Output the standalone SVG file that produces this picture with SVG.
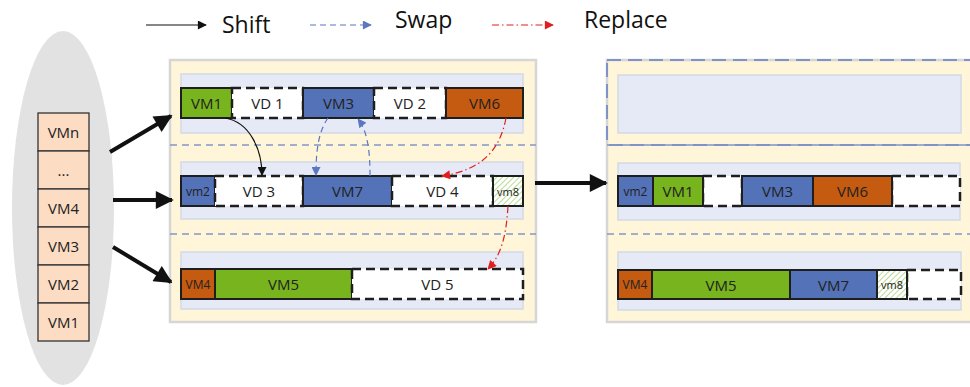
<svg xmlns="http://www.w3.org/2000/svg" width="970" height="387" viewBox="0 0 970 387">
<defs>
<style>
.t{font-family:"Open Sans","Liberation Sans",sans-serif;fill:#222;text-anchor:middle;dominant-baseline:central}
.lg{font-family:"Open Sans","Liberation Sans",sans-serif;fill:#111;font-size:23px}
.b{font-size:15px}
.s{font-size:12px}
.panel{fill:#FFF5D8;stroke:#D6D6D6;stroke-width:2.5}
.inner{fill:#E6EAF6;stroke:#D5D9E4;stroke-width:1.5}
.vm{stroke:#1E1E1E;stroke-width:2}
.vd{fill:#fff;stroke:#1E1E1E;stroke-width:2.5;stroke-dasharray:9 5}
.g{fill:#77B41E}.bl{fill:#5472B8}.o{fill:#C55A11}
.sep{stroke:#8597C8;stroke-width:1.3;stroke-dasharray:7 5;fill:none}
.stk{fill:#FDDCC4;stroke:#333;stroke-width:1.3}
.thick{stroke:#111;stroke-width:4;fill:none}
.shift{stroke:#111;stroke-width:1.2;fill:none}
.swap{stroke:#5B77C0;stroke-width:1.2;stroke-dasharray:6 4;fill:none}
.repl{stroke:#E02020;stroke-width:1.2;stroke-dasharray:7 3 1.5 3;fill:none}
</style>
<marker id="big" viewBox="0 0 10 10" refX="9" refY="5" markerWidth="22" markerHeight="18" markerUnits="userSpaceOnUse" orient="auto"><path d="M0,0 L10,5 L0,10 z" fill="#111"/></marker>
<marker id="ak" viewBox="0 0 10 10" refX="9" refY="5" markerWidth="10" markerHeight="9" markerUnits="userSpaceOnUse" orient="auto"><path d="M0,0 L10,5 L0,10 z" fill="#111"/></marker>
<marker id="ab" viewBox="0 0 10 10" refX="9" refY="5" markerWidth="10" markerHeight="9" markerUnits="userSpaceOnUse" orient="auto"><path d="M0,0 L10,5 L0,10 z" fill="#5B77C0"/></marker>
<marker id="ar" viewBox="0 0 10 10" refX="9" refY="5" markerWidth="10" markerHeight="9" markerUnits="userSpaceOnUse" orient="auto"><path d="M0,0 L10,5 L0,10 z" fill="#E02020"/></marker>
<pattern id="hatch" width="4" height="4" patternUnits="userSpaceOnUse" patternTransform="rotate(45)"><rect width="4" height="4" fill="#fff"/><line x1="0" y1="0" x2="0" y2="4" stroke="#A9D27A" stroke-width="1.6"/></pattern>
</defs>

<g id="legend">
<line x1="146" y1="25" x2="206" y2="25" class="shift" marker-end="url(#ak)"/>
<text x="222" y="33" class="lg">Shift</text>
<line x1="310" y1="25" x2="371" y2="25" class="swap" marker-end="url(#ab)"/>
<text x="395" y="28" class="lg">Swap</text>
<line x1="492" y1="25" x2="553" y2="25" class="repl" marker-end="url(#ar)"/>
<text x="584" y="28" class="lg">Replace</text>
</g>

<g id="queue">
<ellipse cx="63" cy="208" rx="51" ry="177" fill="#E2E2E2"/>
<rect x="38" y="113" width="51" height="38" class="stk"/><text x="63.5" y="132" class="t b">VMn</text>
<rect x="38" y="151" width="51" height="38" class="stk"/><text x="63.5" y="170" class="t b">...</text>
<rect x="38" y="189" width="51" height="38" class="stk"/><text x="63.5" y="208" class="t b">VM4</text>
<rect x="38" y="227" width="51" height="38" class="stk"/><text x="63.5" y="246" class="t b">VM3</text>
<rect x="38" y="265" width="51" height="38" class="stk"/><text x="63.5" y="284" class="t b">VM2</text>
<rect x="38" y="303" width="51" height="38" class="stk"/><text x="63.5" y="322" class="t b">VM1</text>
</g>

<g id="before">
<rect x="170" y="60" width="366" height="262" class="panel"/>
<line x1="170" y1="145" x2="536" y2="145" class="sep"/>
<line x1="170" y1="234" x2="536" y2="234" class="sep"/>
<g id="row1">
<rect x="181" y="74" width="342" height="59" class="inner"/>
<rect x="181" y="88" width="51" height="30" class="vm g"/><text x="206.5" y="103" class="t b">VM1</text>
<rect x="232" y="88" width="71" height="30" class="vd"/><text x="267.5" y="103" class="t b">VD 1</text>
<rect x="303" y="88" width="71" height="30" class="vm bl"/><text x="338.5" y="103" class="t b">VM3</text>
<rect x="374" y="88" width="72" height="30" class="vd"/><text x="410" y="103" class="t b">VD 2</text>
<rect x="446" y="88" width="77" height="30" class="vm o"/><text x="484.5" y="103" class="t b">VM6</text>
</g>
<g id="row2">
<rect x="181" y="162" width="342" height="57" class="inner"/>
<rect x="181" y="176" width="34" height="30" class="vm bl"/><text x="198" y="191" class="t s">vm2</text>
<rect x="215" y="176" width="88" height="30" class="vd"/><text x="259" y="191" class="t b">VD 3</text>
<rect x="303" y="176" width="89" height="30" class="vm bl"/><text x="347.5" y="191" class="t b">VM7</text>
<rect x="392" y="176" width="101" height="30" class="vd"/><text x="442.5" y="191" class="t b">VD 4</text>
<rect x="493" y="176" width="30" height="30" class="vm" fill="url(#hatch)"/><text x="508" y="191" class="t" font-size="11">vm8</text>
</g>
<g id="row3">
<rect x="181" y="252" width="342" height="57" class="inner"/>
<rect x="181" y="269" width="34" height="30" class="vm o"/><text x="198" y="284" class="t s">VM4</text>
<rect x="215" y="269" width="137" height="30" class="vm g"/><text x="283.5" y="284" class="t b">VM5</text>
<rect x="352" y="269" width="171" height="30" class="vd"/><text x="437.5" y="284" class="t b">VD 5</text>
</g>
</g>

<g id="after">
<rect x="607" y="60" width="375" height="262" class="panel"/>
<rect x="607" y="60" width="375" height="85" fill="none" stroke="#7F93C8" stroke-width="2" stroke-dasharray="14 7"/>
<line x1="607" y1="145" x2="975" y2="145" stroke="#7F93C8" stroke-width="1.5"/>
<line x1="607" y1="234" x2="975" y2="234" class="sep"/>
<rect x="618" y="75" width="343" height="58" class="inner"/>
<g id="row4">
<rect x="618" y="163" width="342" height="57" class="inner"/>
<rect x="703" y="176" width="39" height="30" class="vd"/>
<rect x="892" y="176" width="68" height="30" class="vd"/>
<rect x="618" y="176" width="35" height="30" class="vm bl"/><text x="635.5" y="191" class="t s">vm2</text>
<rect x="653" y="176" width="50" height="30" class="vm g"/><text x="678" y="191" class="t b">VM1</text>
<rect x="742" y="176" width="71" height="30" class="vm bl"/><text x="777.5" y="191" class="t b">VM3</text>
<rect x="813" y="176" width="79" height="30" class="vm o"/><text x="852.5" y="191" class="t b">VM6</text>
</g>
<g id="row5">
<rect x="618" y="252" width="343" height="58" class="inner"/>
<rect x="907" y="270" width="54" height="29" class="vd"/>
<rect x="618" y="270" width="34" height="29" class="vm o"/><text x="635" y="284.5" class="t s">VM4</text>
<rect x="652" y="270" width="138" height="29" class="vm g"/><text x="721" y="284.5" class="t b">VM5</text>
<rect x="790" y="270" width="87" height="29" class="vm bl"/><text x="833.5" y="284.5" class="t b">VM7</text>
<rect x="877" y="270" width="30" height="29" class="vm" fill="url(#hatch)"/><text x="892" y="284.5" class="t" font-size="11">vm8</text>
</g>
</g>

<g id="connectors">
<line x1="110" y1="152" x2="171" y2="116" class="thick" marker-end="url(#big)"/>
<line x1="113" y1="200" x2="172" y2="200" class="thick" marker-end="url(#big)"/>
<line x1="113" y1="247" x2="171" y2="282" class="thick" marker-end="url(#big)"/>
<line x1="535" y1="183" x2="606" y2="183" class="thick" marker-end="url(#big)"/>
<path d="M225 118 C250 122 262 150 262 175" class="shift" marker-end="url(#ak)"/>
<path d="M328 118 C318 132 316 152 316 175" class="swap" marker-end="url(#ab)"/>
<path d="M370 176 C370 152 368 132 358 119" class="swap" marker-end="url(#ab)"/>
<path d="M506 118 C500 150 482 170 442 176" class="repl" marker-end="url(#ar)"/>
<path d="M508 206 C506 240 500 256 488 269" class="repl" marker-end="url(#ar)"/>
</g>
</svg>
